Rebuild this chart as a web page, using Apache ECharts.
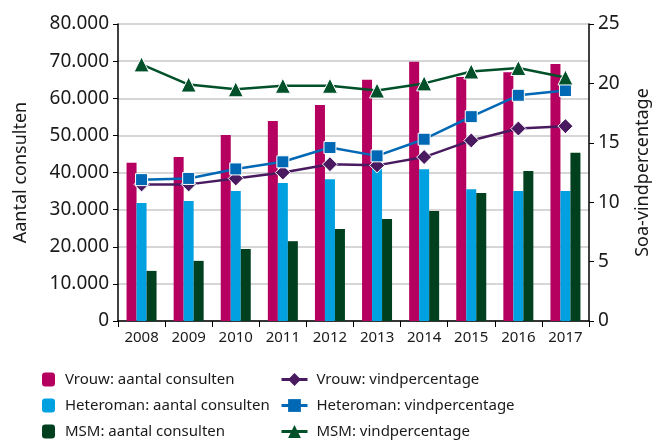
<!DOCTYPE html>
<html>
<head>
<meta charset="utf-8">
<script src="https://cdn.jsdelivr.net/npm/echarts@6/dist/echarts.min.js"></script>
<style>
  html, body { margin: 0; padding: 0; background: #fff; }
  #chart { width: 662px; height: 441px; }
</style>
</head>
<body>
<div id="chart"></div>
<script>
var jaren = ['2008', '2009', '2010', '2011', '2012', '2013', '2014', '2015', '2016', '2017']

// aantal consulten
var vrouwConsulten = [42600, 44200, 50100, 53900, 58200, 65000, 69800, 65700, 67000, 69200]
var heteroConsulten = [31800, 32300, 35000, 37200, 38200, 41500, 40900, 35500, 35000, 35000]
var msmConsulten = [13500, 16200, 19400, 21500, 24800, 27500, 29600, 34500, 40400, 45300]

// soa-vindpercentage
var vrouwPerc = [11.5, 11.5, 12.0, 12.5, 13.2, 13.1, 13.8, 15.2, 16.2, 16.4]
var heteroPerc = [11.9, 12.0, 12.8, 13.4, 14.6, 13.9, 15.3, 17.2, 19.0, 19.4]
var msmPerc = [21.6, 19.9, 19.5, 19.8, 19.8, 19.4, 20.0, 21.0, 21.3, 20.5]

var barNamen = ['Vrouw: aantal consulten', 'Heteroman: aantal consulten', 'MSM: aantal consulten']
var lijnNamen = ['Vrouw: vindpercentage', 'Heteroman: vindpercentage', 'MSM: vindpercentage']

var fontFam = '"Noto Sans", sans-serif'
var txt = '#1a1a1a'

function punt (v) {
  return String(v).replace(/\B(?=(\d{3})+(?!\d))/g, '.')
}

var myChart = echarts.init(document.getElementById('chart'))

function lijn (name, data, color, symbol, size) {
  return {
    name: name,
    type: 'line',
    yAxisIndex: 1,
    data: data,
    symbol: symbol,
    symbolSize: size,
    z: 5,
    lineStyle: { color: color, width: 2.5 },
    itemStyle: { color: color, borderColor: '#fff', borderWidth: 1 }
  }
}

function staaf (name, data, color) {
  return {
    name: name,
    type: 'bar',
    data: data,
    barWidth: 10,
    barGap: 0,
    itemStyle: { color: color }
  }
}

// legenda: een per regel zodat ze niet omslaan
var rijen = [367, 393, 419]
var legendas = []
rijen.forEach(function (y, i) {
  legendas.push({
    data: [barNamen[i]],
    left: 37,
    top: y,
    itemWidth: 13,
    itemHeight: 14,
    textStyle: { fontSize: 15, color: txt, fontFamily: fontFam, padding: [0, 0, 0, 5] }
  })
  legendas.push({
    data: [lijnNamen[i]],
    left: 275,
    top: y,
    itemWidth: 26,
    itemHeight: 16,
    itemStyle: { borderWidth: 0 },
    lineStyle: { width: 3 },
    textStyle: { fontSize: 15, color: txt, fontFamily: fontFam, padding: [0, 0, 0, 4] }
  })
})

myChart.setOption({
  animation: false,
  textStyle: { fontFamily: fontFam },
  grid: { left: 118, right: 73, top: 24, bottom: 120 },
  legend: legendas,
  xAxis: {
    type: 'category',
    data: jaren,
    axisLine: { lineStyle: { color: '#000', width: 1.5 } },
    axisTick: { show: true, length: 6, lineStyle: { color: '#000' } },
    axisLabel: { fontSize: 15, color: txt, margin: 9, interval: 0 }
  },
  yAxis: [{
    type: 'value',
    min: 0,
    max: 80000,
    interval: 10000,
    name: 'Aantal consulten',
    nameLocation: 'middle',
    nameGap: 88,
    nameTextStyle: { fontSize: 18, color: txt },
    axisLine: { show: true, lineStyle: { color: '#000', width: 1.5 } },
    axisTick: { show: true, length: 5, lineStyle: { color: '#000' } },
    axisLabel: { fontSize: 19, color: txt, margin: 9, formatter: punt },
    splitLine: { lineStyle: { color: '#c8c8c8', width: 1.5 } }
  }, {
    type: 'value',
    min: 0,
    max: 25,
    interval: 5,
    name: 'Soa-vindpercentage',
    nameLocation: 'middle',
    nameGap: 45,
    nameRotate: 90,
    nameTextStyle: { fontSize: 18, color: txt },
    axisLine: { show: true, lineStyle: { color: '#000', width: 1.5 } },
    axisTick: { show: true, length: 5, lineStyle: { color: '#000' } },
    axisLabel: { fontSize: 19, color: txt, margin: 9 },
    splitLine: { show: false }
  }],
  series: [
    staaf(barNamen[0], vrouwConsulten, '#b5005f'),
    staaf(barNamen[1], heteroConsulten, '#00a0e1'),
    staaf(barNamen[2], msmConsulten, '#00401f'),
    lijn(lijnNamen[0], vrouwPerc, '#4a1a60', 'diamond', 15),
    lijn(lijnNamen[1], heteroPerc, '#0068b4', 'rect', 12),
    lijn(lijnNamen[2], msmPerc, '#00502a', 'triangle', 15)
  ]
})
</script>
</body>
</html>
